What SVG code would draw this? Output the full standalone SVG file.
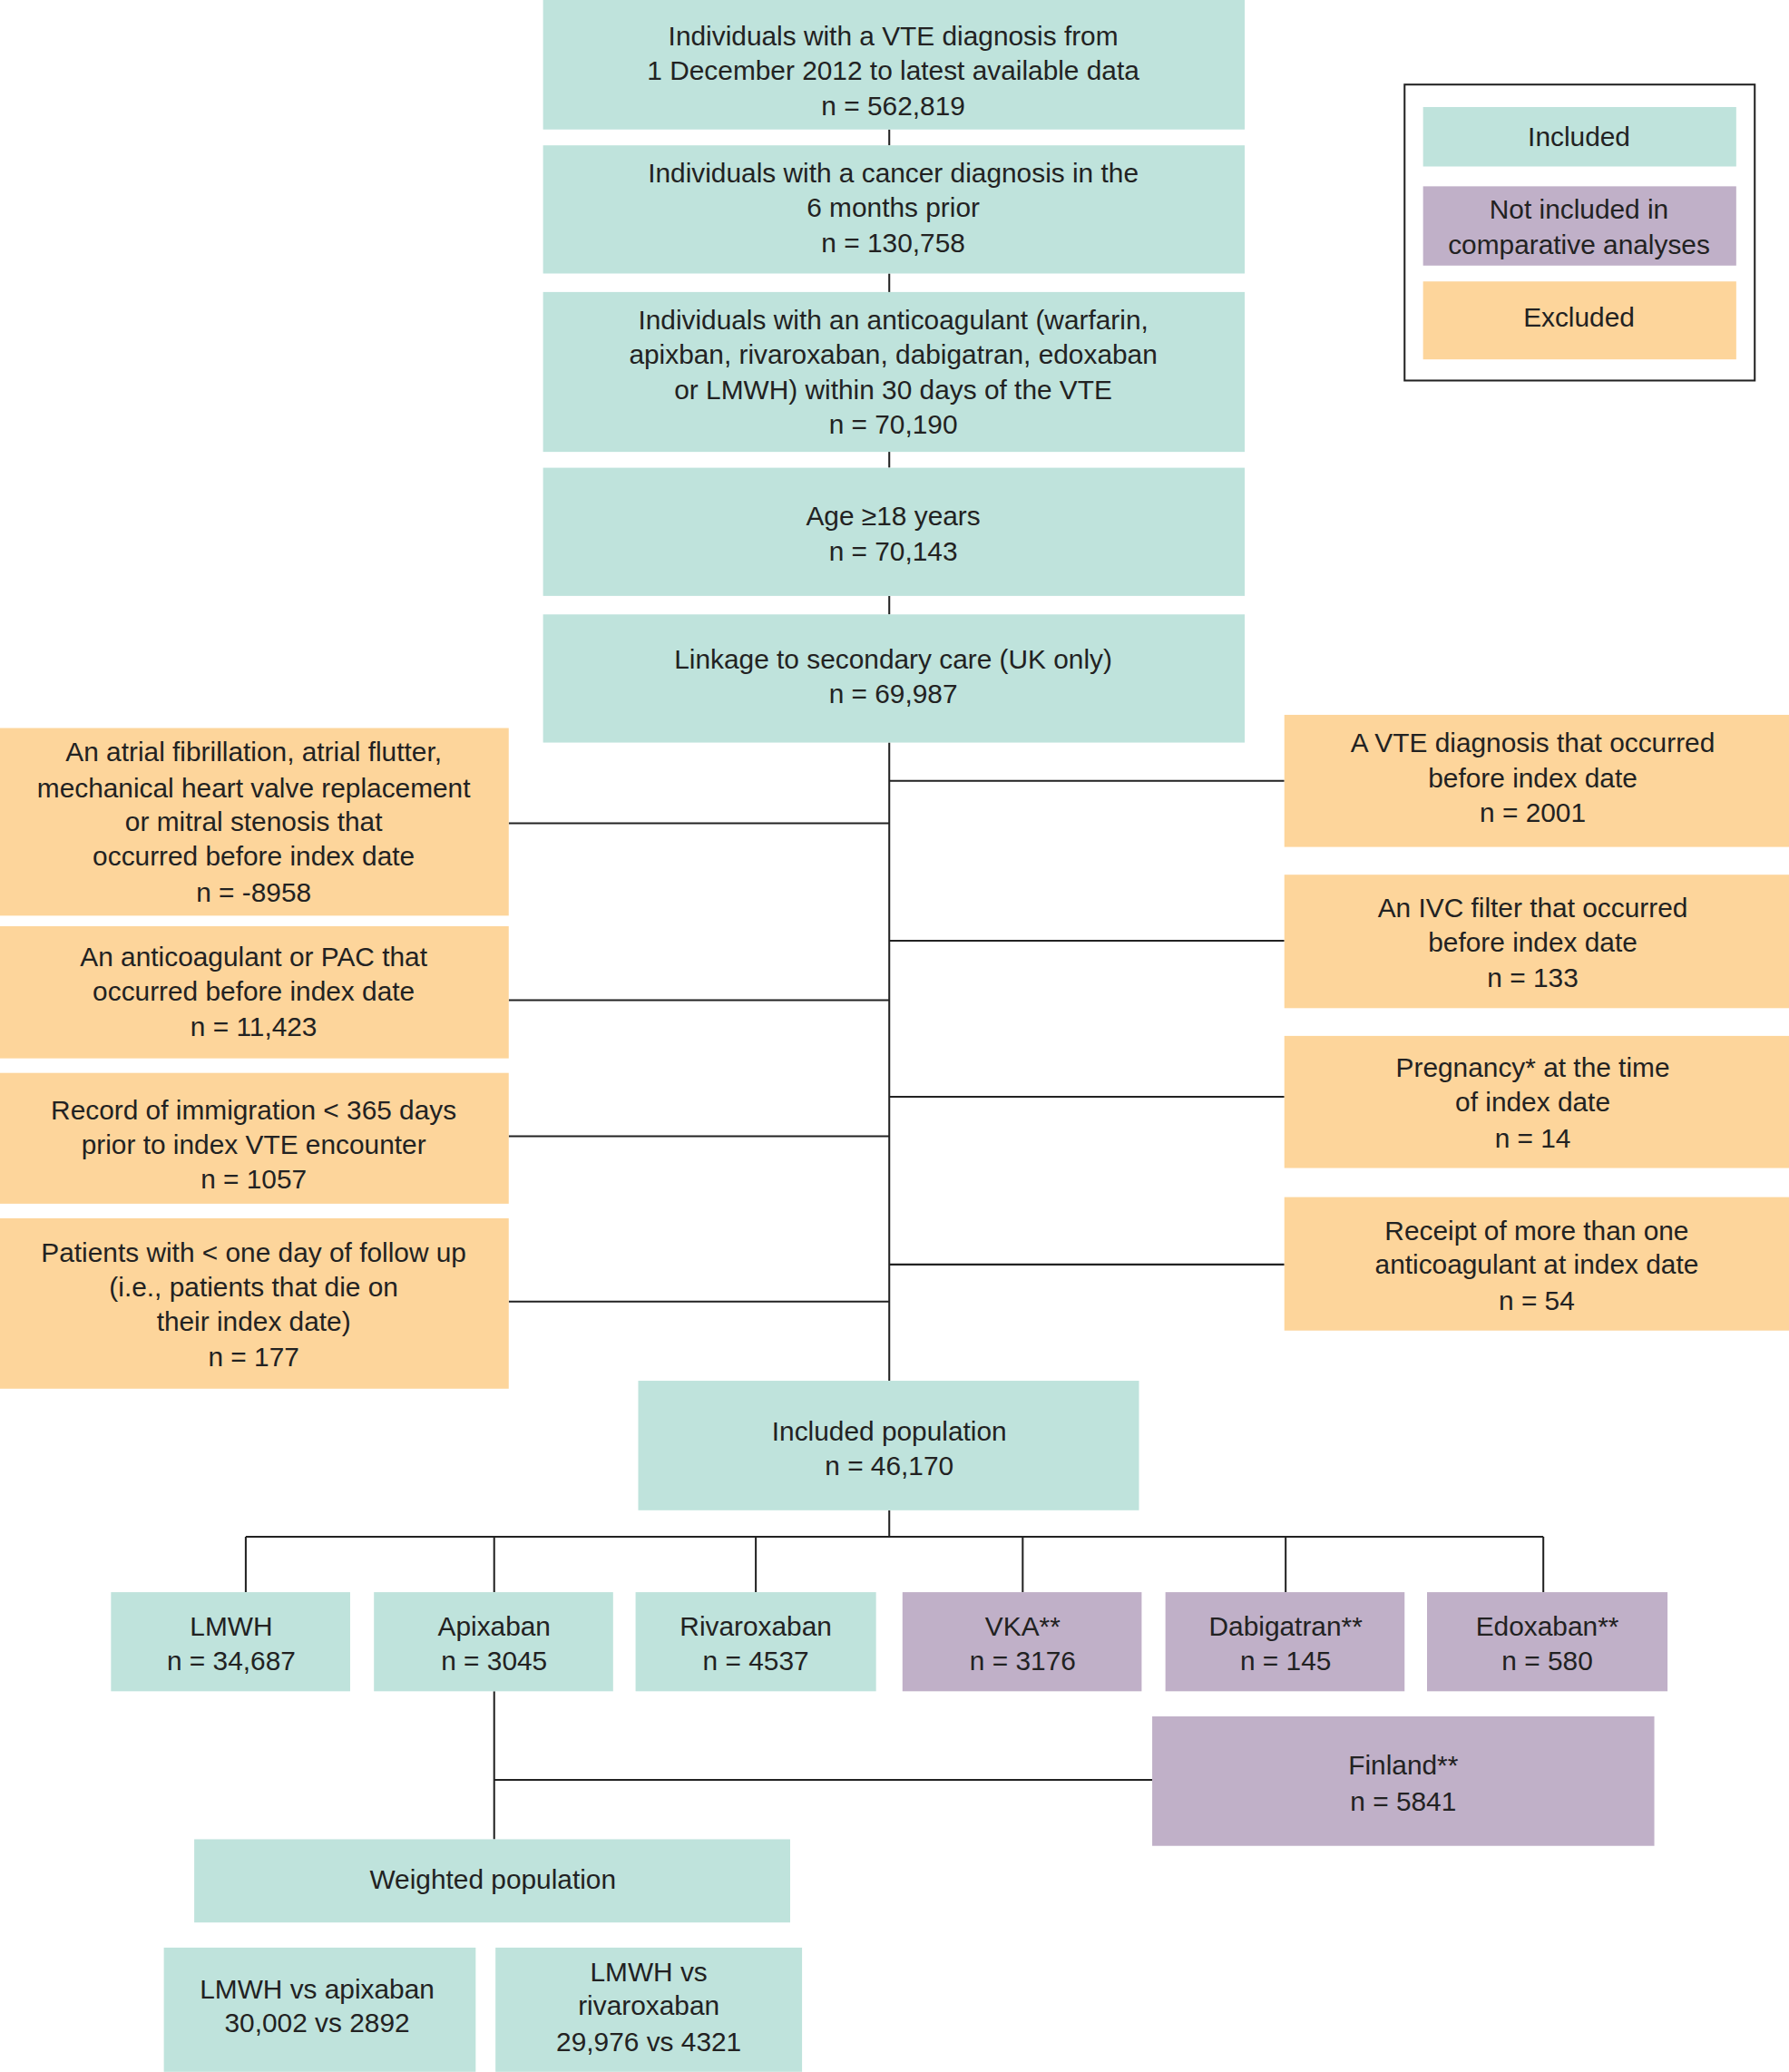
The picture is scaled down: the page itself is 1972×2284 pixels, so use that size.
<svg xmlns="http://www.w3.org/2000/svg" width="1972" height="2284" viewBox="0 0 1972 2284">
<style>
.inc{fill:#bfe3dc}.not{fill:#c0b0c8}.exc{fill:#fdd59b}
text{font-family:"Liberation Sans",Arial,sans-serif;font-size:20.5px;fill:#222;text-anchor:middle;dominant-baseline:central}
.ln{stroke:#222;stroke-width:1.4;fill:none}
</style>
<rect width="1972" height="2284" fill="#fff"/>
<g transform="scale(1.4565)">
<g id="connectors" class="ln">
<path d="M673 98V110M673 207V221M673 342V354M673 451V465M673 562V1045"/>
<path d="M385 623H673M385 757H673M385 860H673M385 985H673"/>
<path d="M673 591H972M673 712H972M673 830H972M673 957H972"/>
<path d="M673 1143V1163M186 1163H1168M186 1163V1205M374 1163V1205M572 1163V1205M774 1163V1205M973 1163V1205M1168 1163V1205"/>
<path d="M374 1280V1392M374 1347H872"/>
</g>
<g id="n1"><rect class="inc" x="411" y="0" width="531" height="98"/><text x="676" y="27">Individuals with a VTE diagnosis from</text><text x="676" y="53">1 December 2012 to latest available data</text><text x="676" y="80">n = 562,819</text></g>
<g id="n2"><rect class="inc" x="411" y="110" width="531" height="97"/><text x="676" y="131">Individuals with a cancer diagnosis in the</text><text x="676" y="157">6 months prior</text><text x="676" y="184">n = 130,758</text></g>
<g id="n3"><rect class="inc" x="411" y="221" width="531" height="121"/><text x="676" y="242">Individuals with an anticoagulant (warfarin,</text><text x="676" y="268">apixban, rivaroxaban, dabigatran, edoxaban</text><text x="676" y="295">or LMWH) within 30 days of the VTE</text><text x="676" y="321">n = 70,190</text></g>
<g id="n4"><rect class="inc" x="411" y="354" width="531" height="97"/><text x="676" y="390">Age ≥18 years</text><text x="676" y="417">n = 70,143</text></g>
<g id="n5"><rect class="inc" x="411" y="465" width="531" height="97"/><text x="676" y="499">Linkage to secondary care (UK only)</text><text x="676" y="525">n = 69,987</text></g>
<g id="l1"><rect class="exc" x="0" y="551" width="385" height="142"/><text x="192" y="569">An atrial fibrillation, atrial flutter,</text><text x="192" y="596">mechanical heart valve replacement</text><text x="192" y="622">or mitral stenosis that</text><text x="192" y="648">occurred before index date</text><text x="192" y="675">n = -8958</text></g>
<g id="l2"><rect class="exc" x="0" y="701" width="385" height="100"/><text x="192" y="724">An anticoagulant or PAC that</text><text x="192" y="750">occurred  before index date</text><text x="192" y="777">n = 11,423</text></g>
<g id="l3"><rect class="exc" x="0" y="812" width="385" height="99"/><text x="192" y="840">Record of immigration &lt; 365 days</text><text x="192" y="866">prior to index  VTE encounter</text><text x="192" y="892">n = 1057</text></g>
<g id="l4"><rect class="exc" x="0" y="922" width="385" height="129"/><text x="192" y="948">Patients with &lt; one day of follow up</text><text x="192" y="974">(i.e., patients that die on</text><text x="192" y="1000">their index date)</text><text x="192" y="1027">n = 177</text></g>
<g id="r1"><rect class="exc" x="972" y="541" width="382" height="100"/><text x="1160" y="562">A VTE diagnosis that occurred</text><text x="1160" y="589">before index date</text><text x="1160" y="615">n = 2001</text></g>
<g id="r2"><rect class="exc" x="972" y="662" width="382" height="101"/><text x="1160" y="687">An IVC filter that occurred</text><text x="1160" y="713">before index date</text><text x="1160" y="740">n = 133</text></g>
<g id="r3"><rect class="exc" x="972" y="784" width="382" height="100"/><text x="1160" y="808">Pregnancy* at the time</text><text x="1160" y="834">of index date</text><text x="1160" y="861">n = 14</text></g>
<g id="r4"><rect class="exc" x="972" y="906" width="382" height="101"/><text x="1163" y="931">Receipt of more than one</text><text x="1163" y="957">anticoagulant at index date</text><text x="1163" y="984">n = 54</text></g>
<g id="incpop"><rect class="inc" x="483" y="1045" width="379" height="98"/><text x="673" y="1083">Included population</text><text x="673" y="1109">n = 46,170</text></g>
<g id="lmwh"><rect class="inc" x="84" y="1205" width="181" height="75"/><text x="175" y="1231">LMWH</text><text x="175" y="1257">n = 34,687</text></g>
<g id="apix"><rect class="inc" x="283" y="1205" width="181" height="75"/><text x="374" y="1231">Apixaban</text><text x="374" y="1257">n = 3045</text></g>
<g id="riva"><rect class="inc" x="481" y="1205" width="182" height="75"/><text x="572" y="1231">Rivaroxaban</text><text x="572" y="1257">n = 4537</text></g>
<g id="vka"><rect class="not" x="683" y="1205" width="181" height="75"/><text x="774" y="1231">VKA**</text><text x="774" y="1257">n = 3176</text></g>
<g id="dabi"><rect class="not" x="882" y="1205" width="181" height="75"/><text x="973" y="1231">Dabigatran**</text><text x="973" y="1257">n = 145</text></g>
<g id="edox"><rect class="not" x="1080" y="1205" width="182" height="75"/><text x="1171" y="1231">Edoxaban**</text><text x="1171" y="1257">n = 580</text></g>
<g id="fin"><rect class="not" x="872" y="1299" width="380" height="98"/><text x="1062" y="1336">Finland**</text><text x="1062" y="1363">n = 5841</text></g>
<g id="weighted"><rect class="inc" x="147" y="1392" width="451" height="63"/><text x="373" y="1422">Weighted population</text></g>
<g id="cmp1"><rect class="inc" x="124" y="1474" width="236" height="94"/><text x="240" y="1505">LMWH vs apixaban</text><text x="240" y="1531">30,002 vs 2892</text></g>
<g id="cmp2"><rect class="inc" x="375" y="1474" width="232" height="94"/><text x="491" y="1492">LMWH vs</text><text x="491" y="1518">rivaroxaban</text><text x="491" y="1545">29,976 vs 4321</text></g>
<g id="legend"><rect x="1063" y="64" width="265" height="224" fill="#fff" stroke="#222" stroke-width="1.4"/>
<rect class="inc" x="1077" y="81" width="237" height="45"/><text x="1195" y="103">Included</text>
<rect class="not" x="1077" y="141" width="237" height="60"/><text x="1195" y="158">Not included in</text><text x="1195" y="185">comparative analyses</text>
<rect class="exc" x="1077" y="213" width="237" height="59"/><text x="1195" y="240">Excluded</text></g>
</g>
</svg>
